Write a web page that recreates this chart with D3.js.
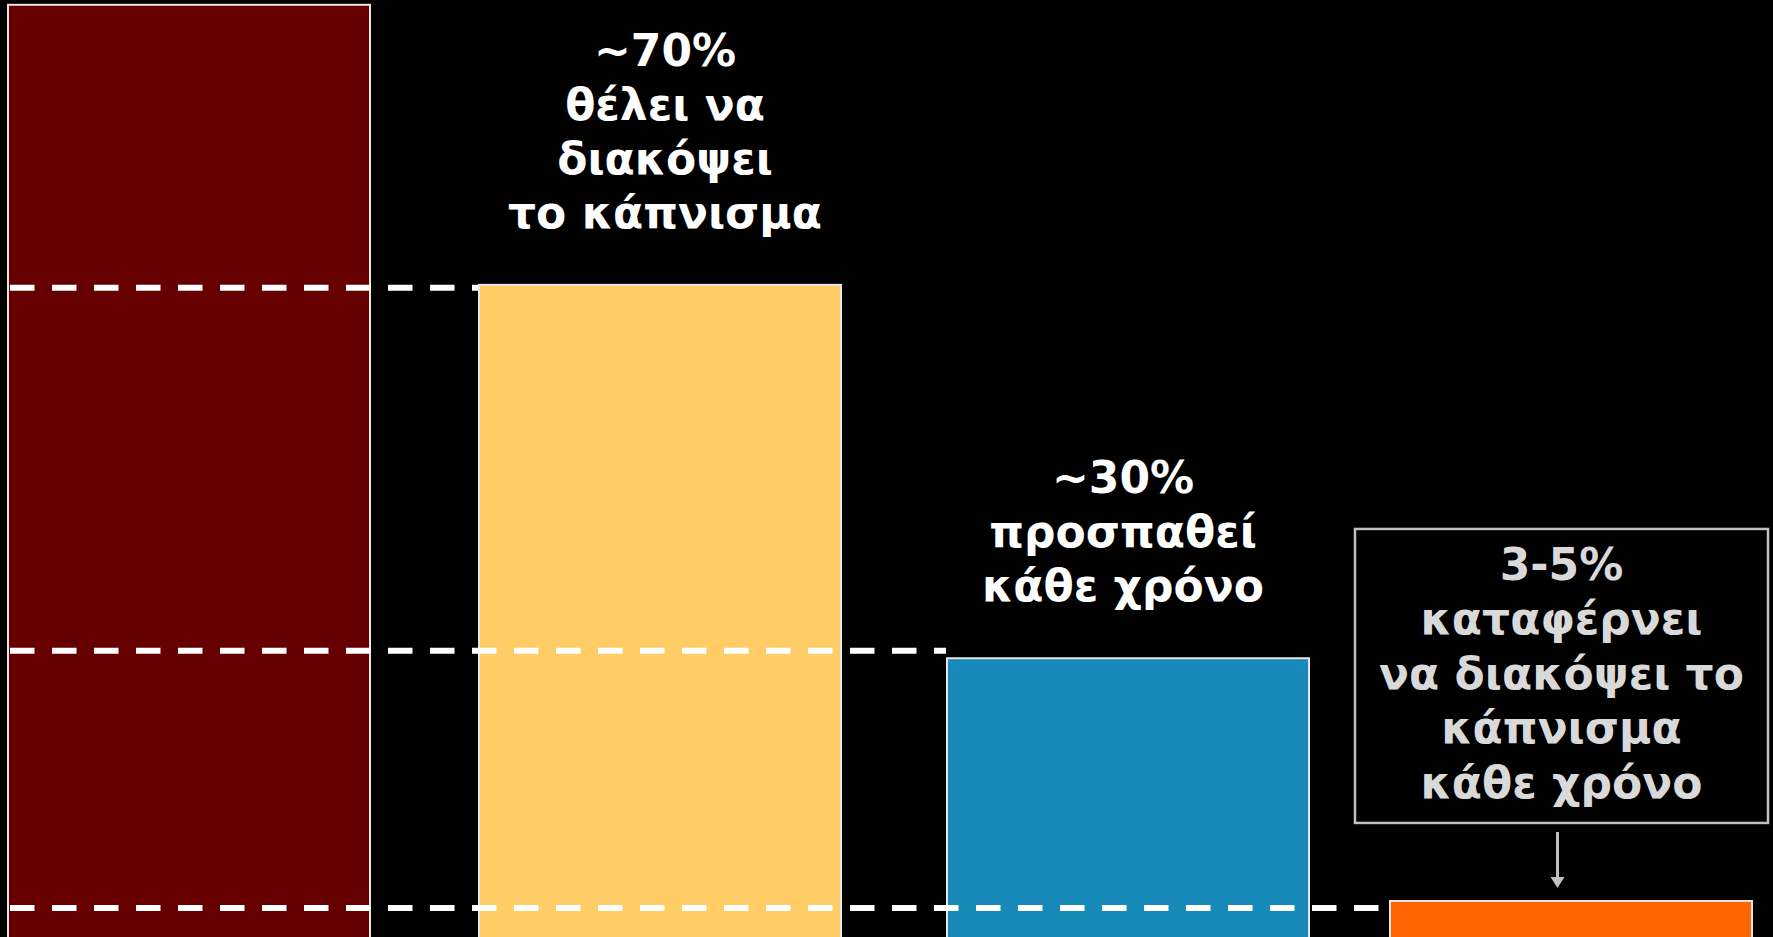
<!DOCTYPE html>
<html>
<head>
<meta charset="utf-8">
<script src="https://cdn.jsdelivr.net/npm/d3@7/dist/d3.min.js"></script>
<style>
  html, body { margin: 0; padding: 0; background: #000; }
  svg { display: block; }
</style>
</head>
<body>
<svg id="chart"></svg>
<script>
// Smokers and how many of them want to, try to, and actually manage to quit
const categories = ["Καπνιστές", "Θέλουν", "Προσπαθούν", "Καταφέρνουν"];
const values = [100, 70, 30, 4];
// dashed reference levels leading to the second, third and fourth bar
const guideLevels = [69.7, 30.8, 3.25];
const barColors = ["#660000", "#FFCC66", "#188AB9", "#FF6600"];
const labels = [
  [],
  ["~70%", "θέλει να", "διακόψει", "το κάπνισμα"],
  ["~30%", "προσπαθεί", "κάθε χρόνο"],
  ["3-5%", "καταφέρνει", "να διακόψει το", "κάπνισμα", "κάθε χρόνο"]
];

const W = 1773, H = 937;
const svg = d3.select("#chart").attr("width", W).attr("height", H);
svg.append("rect").attr("width", W).attr("height", H).attr("fill", "#000");

const y = d3.scaleLinear().domain([0, 100]).range([938.3, 4.8]);
const xLeft = d3.scaleOrdinal().domain(categories).range([8, 479, 947, 1390]);
const barW = 362;
const font = "'DejaVu Sans', sans-serif";

// bars
svg.selectAll("rect.bar")
  .data(categories)
  .join("rect")
  .attr("class", "bar")
  .attr("x", d => xLeft(d))
  .attr("y", (d, i) => y(values[i]))
  .attr("width", barW)
  .attr("height", (d, i) => y(0) - y(values[i]) + 4)
  .attr("fill", (d, i) => barColors[i])
  .attr("stroke", "#e6e6e6")
  .attr("stroke-width", 2);

// dashed guides from the left edge to each following bar
svg.selectAll("line.guide")
  .data(categories.slice(1))
  .join("line")
  .attr("class", "guide")
  .attr("x1", 10)
  .attr("x2", d => xLeft(d) - 1)
  .attr("y1", (d, i) => y(guideLevels[i]))
  .attr("y2", (d, i) => y(guideLevels[i]))
  .attr("stroke", "#fff")
  .attr("stroke-width", 6)
  .attr("stroke-dasharray", "24.5 17.5");

// labels above the middle bars
const lh = 54;
[1, 2].forEach(i => {
  const cx = xLeft(categories[i]) + barW / 2 + (i === 1 ? 5 : -5);
  const lines = labels[i];
  const last = y(values[i]) - 57;
  const t = svg.append("text")
    .attr("text-anchor", "middle")
    .attr("fill", "#fff")
    .attr("font-family", font)
    .attr("font-weight", "bold")
    .attr("font-size", 44);
  lines.forEach((s, k) => {
    t.append("tspan").attr("x", cx).attr("y", last - (lines.length - 1 - k) * lh).text(s);
  });
});

// callout box for the last bar
const lastCat = categories[3];
const boxX = xLeft(lastCat) - 35, boxW = 413;
const boxBottom = y(values[3]) - 78, boxTop = boxBottom - 294;
svg.append("rect")
  .attr("x", boxX).attr("y", boxTop)
  .attr("width", boxW).attr("height", boxBottom - boxTop)
  .attr("fill", "#000")
  .attr("stroke", "#c0c0c0")
  .attr("stroke-width", 2.5);
const bcx = boxX + boxW / 2;
const bt = svg.append("text")
  .attr("text-anchor", "middle")
  .attr("fill", "#d9d9d9")
  .attr("font-family", font)
  .attr("font-weight", "bold")
  .attr("font-size", 44);
labels[3].forEach((s, k) => {
  bt.append("tspan").attr("x", bcx).attr("y", boxTop + 51 + k * 54.5).text(s);
});

// arrow from the box down to the bar
const ax = bcx - 4;
svg.append("line")
  .attr("x1", ax).attr("x2", ax)
  .attr("y1", boxBottom + 9).attr("y2", y(values[3]) - 22)
  .attr("stroke", "#c0c0c0").attr("stroke-width", 3);
svg.append("path")
  .attr("d", `M${ax - 7},${y(values[3]) - 24} L${ax + 7},${y(values[3]) - 24} L${ax},${y(values[3]) - 13} Z`)
  .attr("fill", "#c0c0c0");
</script>
</body>
</html>
